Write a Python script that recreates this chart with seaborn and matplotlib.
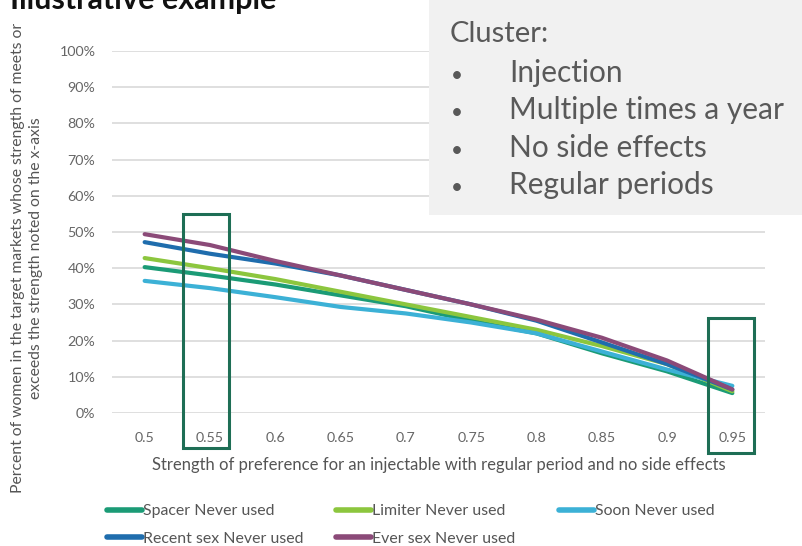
import matplotlib
matplotlib.use("Agg")
import matplotlib.pyplot as plt
from matplotlib.patches import Rectangle
from matplotlib.lines import Line2D
import numpy as np
import pandas as pd
import seaborn as sns

# Preference strength thresholds (x-axis categories)
strength = [0.5, 0.55, 0.6, 0.65, 0.7, 0.75, 0.8, 0.85, 0.9, 0.95]
strength_labels = ["0.5", "0.55", "0.6", "0.65", "0.7", "0.75", "0.8", "0.85", "0.9", "0.95"]

# Share of women whose preference meets or exceeds each threshold
spacer_never = [0.403, 0.380, 0.355, 0.325, 0.295, 0.255, 0.220, 0.165, 0.115, 0.055]
limiter_never = [0.428, 0.400, 0.370, 0.335, 0.300, 0.265, 0.230, 0.185, 0.135, 0.060]
soon_never = [0.365, 0.345, 0.320, 0.293, 0.275, 0.250, 0.220, 0.170, 0.120, 0.075]
recent_sex_never = [0.472, 0.440, 0.413, 0.380, 0.340, 0.300, 0.255, 0.195, 0.135, 0.065]
ever_sex_never = [0.494, 0.464, 0.420, 0.380, 0.340, 0.300, 0.258, 0.208, 0.145, 0.065]

series_names = ["Spacer Never used", "Limiter Never used", "Soon Never used",
                "Recent sex Never used", "Ever sex Never used"]
series_values = [spacer_never, limiter_never, soon_never, recent_sex_never, ever_sex_never]
series_colors = ["#1B9B76", "#8CC63E", "#3CB1D6", "#1F6DAD", "#8B4A78"]

y_ticks = [0.0, 0.1, 0.2, 0.3, 0.4, 0.5, 0.6, 0.7, 0.8, 0.9, 1.0]

cluster_title = "Cluster:"
cluster_items = ["Injection", "Multiple times a year", "No side effects", "Regular periods"]

df = pd.DataFrame({
    "strength": np.tile(strength, len(series_names)),
    "share": np.concatenate(series_values),
    "series": np.repeat(series_names, len(strength)),
})

sns.set_theme(style="white")
plt.rcParams["font.family"] = ["Lato", "DejaVu Sans"]

W, H = 803, 546
fig = plt.figure(figsize=(W / 100, H / 100), dpi=100)
fig.patch.set_facecolor("white")


def fx(px):
    return px / W


def fy(py):
    return 1 - py / H


ax = fig.add_axes([fx(112), fy(413), fx(765) - fx(112), fy(51) - fy(413)])

sns.lineplot(data=df, x="strength", y="share", hue="series", hue_order=series_names,
             palette=series_colors, linewidth=3.0, ax=ax, legend=False,
             solid_capstyle="round")

ax.set_xlim(0.475, 0.975)
ax.set_ylim(0, 1)
ax.set_xticks(strength)
ax.set_xticklabels(strength_labels)
ax.set_yticks(y_ticks)
ax.set_yticklabels([f"{int(round(v * 100))}%" for v in y_ticks])
ax.grid(axis="y", color="#D9D9D9", linewidth=1.2)
ax.set_axisbelow(True)
for s in ax.spines.values():
    s.set_visible(False)
ax.tick_params(axis="both", length=0, labelsize=10.3, colors="#666666")
ax.tick_params(axis="x", pad=14)
ax.tick_params(axis="y", pad=12)

ax.set_xlabel("Strength of preference for an injectable with regular period and no side effects",
              fontsize=12, color="#555555", labelpad=9)
ax.set_ylabel("")

fig.text(fx(27), fy(258),
         "Percent of women in the target markets whose strength of meets or\n"
         "exceeds the strength noted on the x-axis",
         rotation=90, ha="center", va="center", multialignment="center",
         fontsize=11.3, color="#555555", linespacing=1.35)

# Highlight boxes around the 0.55 and 0.95 thresholds
box_color = "#1E6E55"
fig.add_artist(Rectangle((fx(183), fy(448)), fx(229) - fx(183), fy(214) - fy(448),
                         transform=fig.transFigure, fill=False, edgecolor=box_color,
                         linewidth=2.2))
fig.add_artist(Rectangle((fx(708), fy(453)), fx(754) - fx(708), fy(318) - fy(453),
                         transform=fig.transFigure, fill=False, edgecolor=box_color,
                         linewidth=2.2))

# Title (sits at the top edge)
fig.text(fx(10), fy(9), "Illustrative example", fontsize=22, fontweight="bold",
         color="#111111", ha="left", va="baseline")

# Cluster description panel
fig.add_artist(Rectangle((fx(429), fy(215)), 1 - fx(429), fy(0) - fy(215),
                         transform=fig.transFigure, facecolor="#F1F1F1",
                         edgecolor="none", zorder=5))
text_color = "#595959"
fig.text(fx(450), fy(42), cluster_title, fontsize=21, color=text_color,
         ha="left", va="baseline", zorder=6)
for i, item in enumerate(cluster_items):
    base = 82 + i * 37.3
    fig.text(fx(451), fy(base), "•", fontsize=15, color=text_color,
             ha="left", va="baseline", zorder=6)
    fig.text(fx(509), fy(base), item, fontsize=21.5, color=text_color,
             ha="left", va="baseline", zorder=6)

# Legend: three columns, two rows
columns = [[0, 3], [1, 4], [2]]
col_x = [107, 336, 559]
for cx, idxs in zip(col_x, columns):
    handles = [Line2D([0], [0], color=series_colors[i], linewidth=4,
                      solid_capstyle="round") for i in idxs]
    labels = [series_names[i] for i in idxs]
    fig.legend(handles, labels, loc="upper left", bbox_to_anchor=(fx(cx), fy(504)),
               frameon=False, fontsize=11.4, handlelength=2.2, handletextpad=0.1,
               labelspacing=0.85, borderaxespad=0, borderpad=0, labelcolor="#555555")

fig.savefig("out.png", dpi=100)
